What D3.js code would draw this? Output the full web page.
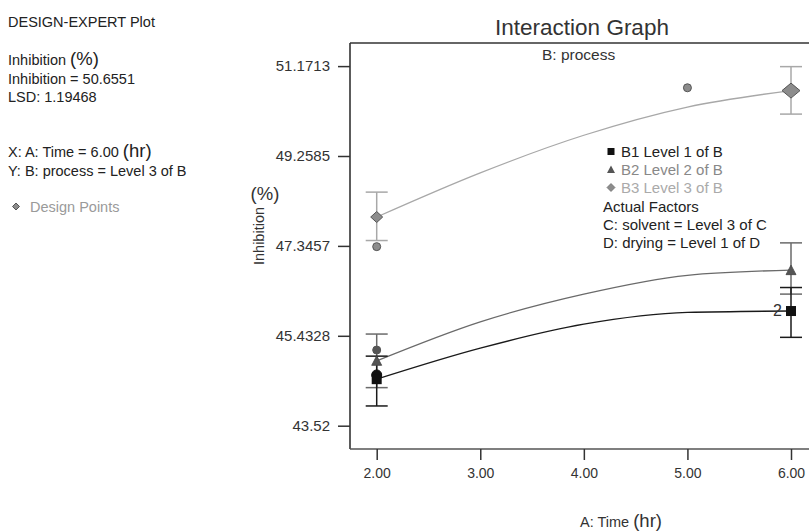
<!DOCTYPE html>
<html><head><meta charset="utf-8">
<script src="https://cdnjs.cloudflare.com/ajax/libs/d3/7.8.5/d3.min.js"></script>
<style>
html,body{margin:0;padding:0;background:#fff;}
svg{display:block;font-family:"Liberation Sans",Arial,sans-serif;}
</style></head><body>
<svg id="chart" width="809" height="532"></svg>
<script>
// ---- data ----
const xTicks = [2, 3, 4, 5, 6];
const xTickLabels = ["2.00", "3.00", "4.00", "5.00", "6.00"];
const yTicks = [43.52, 45.4328, 47.3457, 49.2585, 51.1713];
const yTickLabels = ["43.52", "45.4328", "47.3457", "49.2585", "51.1713"];

const times = [2, 3, 4, 5, 6];
const b1Curve = [44.51, 45.17, 45.68, 45.93, 45.96];
const b2Curve = [44.90, 45.73, 46.32, 46.72, 46.83];
const b3Curve = [47.96, 48.90, 49.70, 50.30, 50.65];

const barTimes = [2, 6];
const b1Low = [43.94, 45.40], b1High = [45.00, 46.46];
const b2Low = [44.33, 46.32], b2High = [45.47, 47.41];
const b3Low = [47.46, 50.15], b3High = [48.49, 51.16];

const designTimes = [2, 5, 2, 2];
const designValues = [47.33, 50.71, 45.13, 44.60];
const designSeries = ["B3", "B3", "B2", "B1"];

const legendLabels = ["B1 Level 1 of B", "B2 Level 2 of B", "B3 Level 3 of B"];
const factorLines = ["Actual Factors", "C: solvent = Level 3 of C", "D: drying = Level 1 of D"];

// ---- layout ----
const svg = d3.select("#chart");
const frame = {left: 350, top: 43, bottom: 449, right: 812};
const x = d3.scaleLinear().domain([2, 6]).range([376.7, 791]);
const y = d3.scaleLinear().domain([43.52, 51.1713]).range([425.7, 66.1]);

const col = {B1: "#1a1a1a", B2: "#6a6a6a", B3: "#a8a8a8"};
const markFill = {B1: "#111", B2: "#555", B3: "#8c8c8c"};

// left info panel
const info = svg.append("g").attr("fill", "#222").style("font-size", "14.5px");
info.append("text").attr("x", 8).attr("y", 27).text("DESIGN-EXPERT Plot");
const t1 = info.append("text").attr("x", 8).attr("y", 65);
t1.append("tspan").text("Inhibition ");
t1.append("tspan").style("font-size", "18.5px").text("(%)");
info.append("text").attr("x", 8).attr("y", 83.5).text("Inhibition = 50.6551");
info.append("text").attr("x", 8).attr("y", 101.5).text("LSD: 1.19468");
const t2 = info.append("text").attr("x", 8).attr("y", 156.5);
t2.append("tspan").text("X: A: Time = 6.00 ");
t2.append("tspan").style("font-size", "18.5px").text("(hr)");
info.append("text").attr("x", 8).attr("y", 176).text("Y: B: process = Level 3 of B");
svg.append("path").attr("d", "M12.5,206.5L16,203L19.5,206.5L16,210Z")
  .attr("fill", "#8c8c8c").attr("stroke", "#555").attr("stroke-width", 1);
svg.append("text").attr("x", 30).attr("y", 211.5).attr("fill", "#9a9a9a")
  .style("font-size", "14.5px").text("Design Points");

// title
svg.append("text").attr("x", 582).attr("y", 35).attr("text-anchor", "middle")
  .attr("fill", "#333").style("font-size", "22.5px").text("Interaction Graph");
svg.append("text").attr("x", 542).attr("y", 60).attr("fill", "#333")
  .style("font-size", "15.5px").text("B: process");

// frame
svg.append("line").attr("x1", frame.left).attr("x2", frame.right).attr("y1", frame.top).attr("y2", frame.top)
  .attr("stroke", "#666").attr("stroke-width", 2);
svg.append("line").attr("x1", frame.left).attr("x2", frame.left).attr("y1", frame.top).attr("y2", frame.bottom)
  .attr("stroke", "#333").attr("stroke-width", 1.6);
svg.append("line").attr("x1", frame.left).attr("x2", frame.right).attr("y1", frame.bottom).attr("y2", frame.bottom)
  .attr("stroke", "#555").attr("stroke-width", 1.6);

// axes
const yAxis = d3.axisLeft(y).tickValues(yTicks).tickSize(12).tickPadding(8)
  .tickFormat((d, i) => yTickLabels[i]);
const gy = svg.append("g").attr("transform", `translate(${frame.left},0)`).call(yAxis);
gy.select(".domain").remove();
gy.selectAll(".tick line").attr("stroke", "#333").attr("stroke-width", 1.5);
gy.selectAll(".tick text").attr("fill", "#333").style("font-size", "15px")
  .style("font-family", "'Liberation Sans',Arial,sans-serif");

const xAxis = d3.axisBottom(x).tickValues(xTicks).tickSize(11).tickPadding(8)
  .tickFormat((d, i) => xTickLabels[i]);
const gx = svg.append("g").attr("transform", `translate(0,${frame.bottom})`).call(xAxis);
gx.select(".domain").remove();
gx.selectAll(".tick line").attr("stroke", "#333").attr("stroke-width", 1.5);
gx.selectAll(".tick text").attr("fill", "#333").style("font-size", "14px")
  .style("font-family", "'Liberation Sans',Arial,sans-serif");

// axis titles
svg.append("text").attr("transform", "translate(264,236) rotate(-90)")
  .attr("text-anchor", "middle").attr("fill", "#333").style("font-size", "14.5px").text("Inhibition");
svg.append("text").attr("x", 265).attr("y", 200).attr("text-anchor", "middle").attr("fill", "#333")
  .style("font-size", "18.5px").text("(%)");
const xt = svg.append("text").attr("x", 621).attr("y", 527).attr("text-anchor", "middle")
  .attr("fill", "#333").style("font-size", "14.5px");
xt.append("tspan").text("A: Time ");
xt.append("tspan").style("font-size", "18.5px").text("(hr)");

// curves
const line = d3.line().x(d => x(d[0])).y(d => y(d[1])).curve(d3.curveMonotoneX);
const curves = [["B3", b3Curve], ["B2", b2Curve], ["B1", b1Curve]];
curves.forEach(([k, vals]) => {
  svg.append("path").datum(times.map((t, i) => [t, vals[i]]))
    .attr("d", line).attr("fill", "none").attr("stroke", col[k]).attr("stroke-width", 1.3);
});

// error bars (LSD)
const bars = [["B3", b3Low, b3High], ["B2", b2Low, b2High], ["B1", b1Low, b1High]];
bars.forEach(([k, lo, hi]) => {
  barTimes.forEach((t, i) => {
    const g = svg.append("g").attr("stroke", col[k]).attr("stroke-width", 1.5);
    g.append("line").attr("x1", x(t)).attr("x2", x(t)).attr("y1", y(lo[i])).attr("y2", y(hi[i]));
    [lo[i], hi[i]].forEach(v => g.append("line").attr("x1", x(t) - 11).attr("x2", x(t) + 11)
      .attr("y1", y(v)).attr("y2", y(v)));
  });
});

// design points
designTimes.forEach((t, i) => {
  const k = designSeries[i];
  svg.append("circle").attr("cx", x(t)).attr("cy", y(designValues[i])).attr("r", k === "B1" ? 5 : 4)
    .attr("fill", markFill[k]).attr("stroke", k === "B3" ? "#555" : markFill[k]).attr("stroke-width", 1);
});

// predicted markers
function diamond(cx, cy, w, h) {
  return `M${cx - w / 2},${cy}L${cx},${cy - h / 2}L${cx + w / 2},${cy}L${cx},${cy + h / 2}Z`;
}
function tri(cx, cy, s) {
  return `M${cx - s / 2},${cy + s * 0.45}L${cx},${cy - s * 0.5}L${cx + s / 2},${cy + s * 0.45}Z`;
}
[0, 4].forEach(i => {
  const t = times[i];
  svg.append("path").attr("d", diamond(x(t), y(b3Curve[i]), i === 0 ? 12 : 18, i === 0 ? 11 : 15))
    .attr("fill", markFill.B3).attr("stroke", "#555").attr("stroke-width", 1);
  svg.append("path").attr("d", tri(x(t), y(b2Curve[i]), 10))
    .attr("fill", markFill.B2).attr("stroke", "#444").attr("stroke-width", 0.8);
  svg.append("rect").attr("x", x(t) - 5).attr("y", y(b1Curve[i]) - 5).attr("width", 10).attr("height", 10)
    .attr("fill", markFill.B1);
});
svg.append("text").attr("x", x(6) - 9).attr("y", y(b1Curve[4]) + 5).attr("text-anchor", "end")
  .attr("fill", "#333").style("font-size", "16px").text("2");

// legend
const lg = svg.append("g").style("font-size", "15px");
const legCols = ["#222", "#888", "#aaa"];
legendLabels.forEach((s, i) => {
  const cy = 151.5 + i * 18;
  if (i === 0) lg.append("rect").attr("x", 607.5).attr("y", cy - 3.5).attr("width", 7).attr("height", 7).attr("fill", "#111");
  if (i === 1) lg.append("path").attr("d", tri(611, cy, 8)).attr("fill", "#555");
  if (i === 2) lg.append("path").attr("d", diamond(611, cy, 8, 8)).attr("fill", "#8c8c8c").attr("stroke", "#666").attr("stroke-width", 0.7);
  lg.append("text").attr("x", 621).attr("y", cy + 5).attr("fill", legCols[i]).text(s);
});
factorLines.forEach((s, i) => {
  lg.append("text").attr("x", 603).attr("y", 211.5 + i * 18).attr("fill", "#222").text(s);
});
</script>
</body></html>
